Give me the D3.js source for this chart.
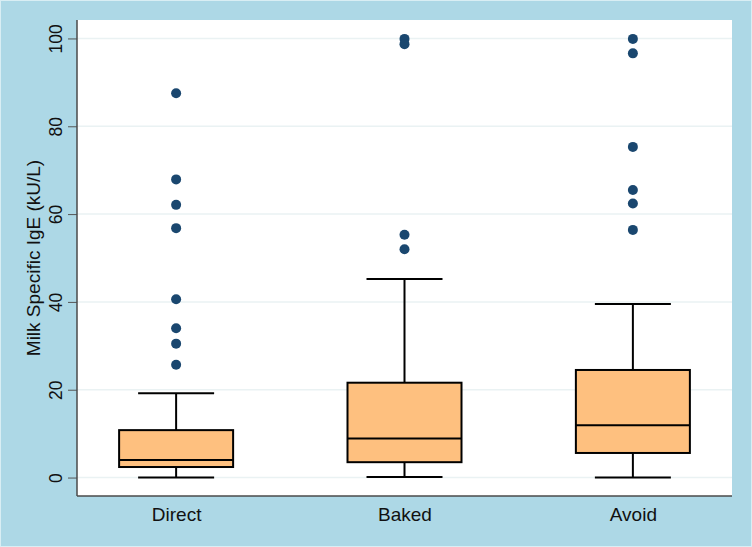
<!DOCTYPE html>
<html><head><meta charset="utf-8">
<script src="https://cdn.jsdelivr.net/npm/d3@7"></script>
<style>body{margin:0;background:#add8e6;}svg{display:block;}</style>
</head><body>
<svg id="chart" width="752" height="547"></svg>
<script>
const categories = ["Direct", "Baked", "Avoid"];
const lowerWhisker = [0, 0.1, 0];
const q1 = [2.4, 3.5, 5.6];
const median = [4.0, 8.9, 11.9];
const q3 = [10.8, 21.6, 24.5];
const upperWhisker = [19.2, 45.2, 39.5];
const outliers = [
  [87.5, 67.9, 62.1, 56.8, 40.6, 34.0, 30.5, 25.7],
  [99.9, 98.7, 55.3, 52.0],
  [99.9, 96.6, 75.3, 65.5, 62.4, 56.4]
];
const yTicks = [0, 20, 40, 60, 80, 100];
const yTitle = "Milk Specific IgE (kU/L)";

const svg = d3.select("#chart");
const W = 752, H = 547;
const m = {left: 77, right: 20, top: 20, bottom: 51};
const font = "Liberation Sans, Arial, sans-serif";

svg.append("rect").attr("width", W).attr("height", H).attr("fill", "#add8e6");
svg.append("rect").attr("x", 0.5).attr("y", 0.5).attr("width", W - 1).attr("height", H - 1)
  .attr("fill", "none").attr("stroke", "#d9eef4").attr("stroke-width", 1);

const x = d3.scalePoint().domain(categories).range([m.left, W - m.right]).padding(0.434);
const y = d3.scaleLinear().domain([-4.2, 104.2]).range([H - m.bottom, m.top]);

svg.append("rect").attr("x", m.left).attr("y", m.top)
  .attr("width", W - m.right - m.left).attr("height", H - m.bottom - m.top).attr("fill", "#ffffff");

// gridlines
svg.append("g").selectAll("line").data(yTicks).join("line")
  .attr("x1", m.left).attr("x2", W - m.right)
  .attr("y1", d => y(d)).attr("y2", d => y(d))
  .attr("stroke", "#eaf2f3").attr("stroke-width", 1.5);

// y axis
const yAxis = svg.append("g").attr("transform", `translate(${m.left},0)`)
  .call(d3.axisLeft(y).tickValues(yTicks).tickSize(9).tickPadding(8));
yAxis.select(".domain").remove();
yAxis.selectAll(".tick line").attr("stroke", "#555").attr("stroke-width", 1);
yAxis.selectAll(".tick text")
  .attr("font-family", font).attr("font-size", 17.5).attr("fill", "#111")
  .attr("text-anchor", "middle")
  .attr("x", 0).attr("y", 0).attr("dy", "0em")
  .attr("transform", "translate(-15,0) rotate(-90)");

// axis lines (left and bottom)
svg.append("line").attr("x1", m.left).attr("x2", m.left).attr("y1", m.top).attr("y2", H - m.bottom)
  .attr("stroke", "#4a4a4a").attr("stroke-width", 1.5);
svg.append("line").attr("x1", m.left).attr("x2", W - m.right).attr("y1", H - m.bottom).attr("y2", H - m.bottom)
  .attr("stroke", "#4a4a4a").attr("stroke-width", 1.5);

// y title
svg.append("text").attr("transform", `translate(40,${(m.top + H - m.bottom) / 2}) rotate(-90)`)
  .attr("text-anchor", "middle").attr("font-family", font).attr("font-size", 19).attr("fill", "#111")
  .text(yTitle);

// x labels
const xAxis = svg.append("g").attr("transform", `translate(0,${H - m.bottom})`)
  .call(d3.axisBottom(x).tickSize(0).tickPadding(12));
xAxis.select(".domain").remove();
xAxis.selectAll(".tick text").attr("font-family", font).attr("font-size", 19).attr("fill", "#111");

const boxW = 114, capW = 76;
const data = categories.map((c, i) => ({c, lw: lowerWhisker[i], q1: q1[i], med: median[i], q3: q3[i], uw: upperWhisker[i], out: outliers[i]}));

const g = svg.append("g").selectAll("g").data(data).join("g");
// whiskers
g.append("line").attr("x1", d => x(d.c)).attr("x2", d => x(d.c))
  .attr("y1", d => y(d.q3)).attr("y2", d => y(d.uw)).attr("stroke", "#000").attr("stroke-width", 2);
g.append("line").attr("x1", d => x(d.c)).attr("x2", d => x(d.c))
  .attr("y1", d => y(d.q1)).attr("y2", d => y(d.lw)).attr("stroke", "#000").attr("stroke-width", 2);
g.append("line").attr("x1", d => x(d.c) - capW / 2).attr("x2", d => x(d.c) + capW / 2)
  .attr("y1", d => y(d.uw)).attr("y2", d => y(d.uw)).attr("stroke", "#000").attr("stroke-width", 2);
g.append("line").attr("x1", d => x(d.c) - capW / 2).attr("x2", d => x(d.c) + capW / 2)
  .attr("y1", d => y(d.lw)).attr("y2", d => y(d.lw)).attr("stroke", "#000").attr("stroke-width", 2);
// box
g.append("rect").attr("x", d => x(d.c) - boxW / 2).attr("width", boxW)
  .attr("y", d => y(d.q3)).attr("height", d => y(d.q1) - y(d.q3))
  .attr("fill", "#fec07f").attr("stroke", "#000").attr("stroke-width", 2);
g.append("line").attr("x1", d => x(d.c) - boxW / 2).attr("x2", d => x(d.c) + boxW / 2)
  .attr("y1", d => y(d.med)).attr("y2", d => y(d.med)).attr("stroke", "#000").attr("stroke-width", 2);
// outliers
g.selectAll("circle").data(d => d.out.map(v => ({c: d.c, v}))).join("circle")
  .attr("cx", d => x(d.c)).attr("cy", d => y(d.v)).attr("r", 5).attr("fill", "#1a476f");
</script>
</body></html>
